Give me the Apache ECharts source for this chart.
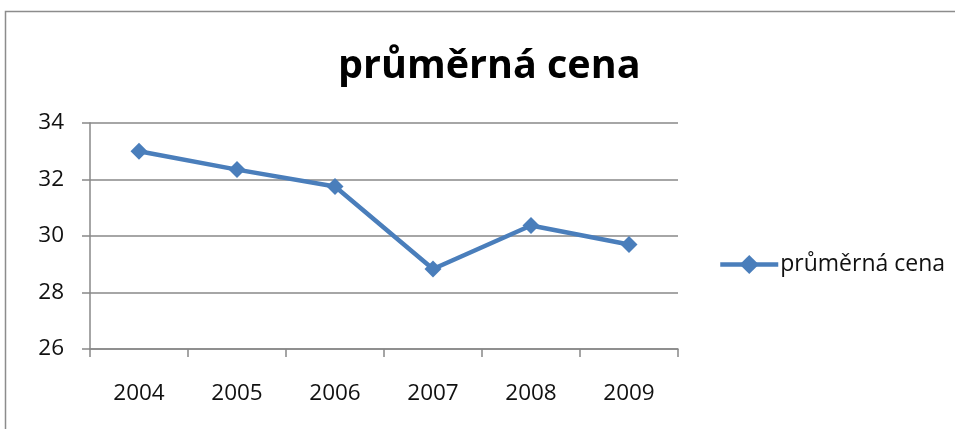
<!DOCTYPE html>
<html><head><meta charset="utf-8">
<script src="https://cdn.jsdelivr.net/npm/echarts@6/dist/echarts.min.js"></script>
<style>html,body{margin:0;padding:0;background:#fff}#c{width:955px;height:429px}</style>
</head><body><div id="c"></div>
<script>
const categories = ['2004','2005','2006','2007','2008','2009'];
const seriesName = 'průměrná cena';
const values = [33.0, 32.35, 31.75, 28.83, 30.37, 29.7];
const yTicks = {min: 26, max: 34, interval: 2};

const chart = echarts.init(document.getElementById('c'));
const font = '"Open Sans", "DejaVu Sans", sans-serif';
chart.setOption({
  animation: false,
  backgroundColor: '#fff',
  graphic: [{type:'rect', shape:{x:5.5, y:11.5, width:1000, height:500}, style:{fill:'none', stroke:'#8c8c8c', lineWidth:1.5}, silent:true}],
  title: {text: seriesName, left: 338, top: 47, padding: 0, textStyle:{fontFamily: font, fontSize: 39.5, fontWeight:'bold', color:'#000'}},
  legend: {orient:'vertical', left: 718, top: 253, padding: 0, itemWidth: 58, itemHeight: 24, itemGap: 4,
    lineStyle:{width: 4.5},
    textStyle:{fontFamily: font, fontSize: 23, color:'#111', padding:[0,0,0,-3]}, data:[seriesName]},
  grid: {left: 90, right: 277, top: 123, bottom: 80, containLabel:false},
  xAxis: {type:'category', data: categories, boundaryGap: true,
    axisLine:{lineStyle:{color:'#888', width:1.5}},
    axisTick:{show:true, length:8, lineStyle:{color:'#888', width:1.5}},
    axisLabel:{fontFamily: font, fontSize: 22.5, color:'#111', margin: 33}},
  yAxis: {type:'value', min: yTicks.min, max: yTicks.max, interval: yTicks.interval,
    axisLine:{show:true, lineStyle:{color:'#888', width:1.5}},
    axisTick:{show:true, length:8, lineStyle:{color:'#888', width:1.5}},
    splitLine:{lineStyle:{color:'#888', width:1.5}},
    axisLabel:{fontFamily: font, fontSize: 22.5, color:'#111', margin: 26}},
  series: [{name: seriesName, type:'line', data: values, symbol:'diamond', symbolSize: 17,
    lineStyle:{color:'#4A7EBB', width:4.5}, itemStyle:{color:'#4A7EBB'}}]
});
</script></body></html>
